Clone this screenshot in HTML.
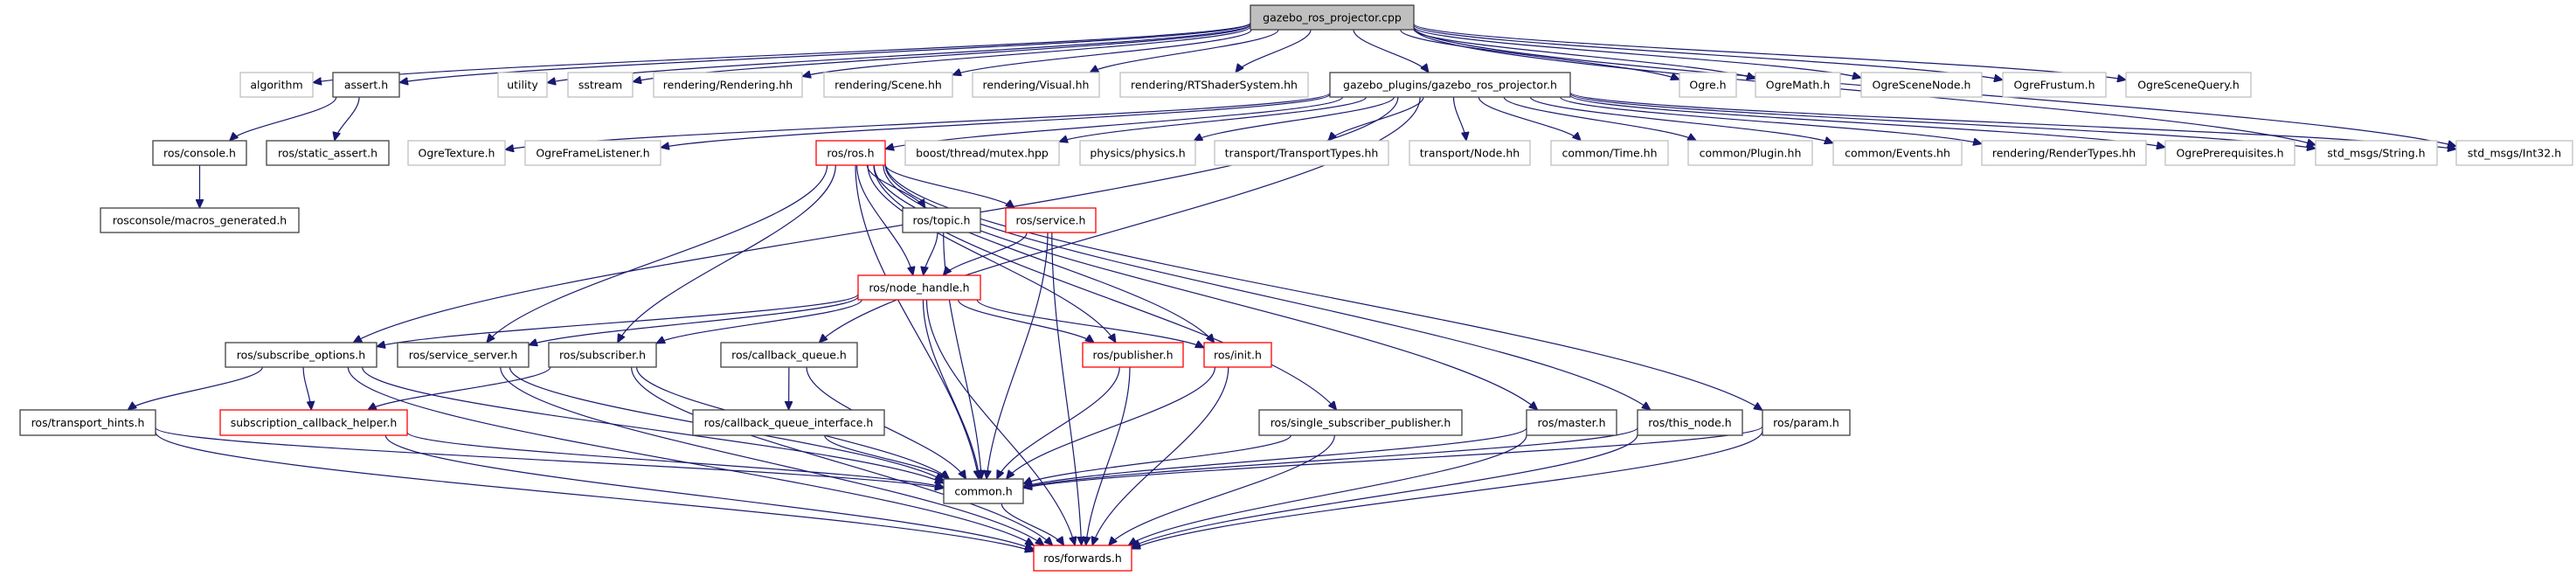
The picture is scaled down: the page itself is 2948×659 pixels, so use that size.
<!DOCTYPE html>
<html><head><meta charset="utf-8"><style>
html,body{margin:0;padding:0;background:#fff;}
svg{display:block;}
text{font-family:"DejaVu Sans","Liberation Sans",sans-serif;font-size:12.5px;fill:#000;text-anchor:middle;dominant-baseline:central;}
.g{fill:#fff;stroke:#bfbfbf;stroke-width:1.3}
.b{fill:#fff;stroke:#404040;stroke-width:1.3}
.r{fill:#fff;stroke:#ff0000;stroke-width:1.3}
.c{fill:#bfbfbf;stroke:#404040;stroke-width:1.3}
.e{fill:none;stroke:#191970;stroke-width:1.2}
</style></head><body>
<svg id="s" width="2948" height="659" viewBox="0 0 2948 659" xmlns="http://www.w3.org/2000/svg">
<defs><marker id="a" markerUnits="userSpaceOnUse" markerWidth="11" markerHeight="9" refX="10" refY="4.5" orient="auto"><path d="M0,0 L10,4.5 L0,9 z" fill="#191970" stroke="#191970"/></marker></defs>
<g id="edges"></g>
<g id="nodes">
<rect class="c" x="1431" y="6" width="187" height="28"/><text x="1524.5" y="20">gazebo_ros_projector.cpp</text>

<rect class="g" x="275" y="83" width="83" height="28"/><text x="316.5" y="97">algorithm</text>
<rect class="b" x="381" y="83" width="76" height="28"/><text x="419" y="97">assert.h</text>
<rect class="g" x="570" y="83" width="56" height="28"/><text x="598" y="97">utility</text>
<rect class="g" x="650" y="83" width="74" height="28"/><text x="687" y="97">sstream</text>
<rect class="g" x="748" y="83" width="170" height="28"/><text x="833" y="97">rendering/Rendering.hh</text>
<rect class="g" x="943" y="83" width="147" height="28"/><text x="1016.5" y="97">rendering/Scene.hh</text>
<rect class="g" x="1113" y="83" width="145" height="28"/><text x="1185.5" y="97">rendering/Visual.hh</text>
<rect class="g" x="1282" y="83" width="215" height="28"/><text x="1389.5" y="97">rendering/RTShaderSystem.hh</text>
<rect class="b" x="1522" y="83" width="275" height="28"/><text x="1659.5" y="97">gazebo_plugins/gazebo_ros_projector.h</text>
<rect class="g" x="1922" y="83" width="65" height="28"/><text x="1954.5" y="97">Ogre.h</text>
<rect class="g" x="2009" y="83" width="97" height="28"/><text x="2057.5" y="97">OgreMath.h</text>
<rect class="g" x="2130" y="83" width="138" height="28"/><text x="2199" y="97">OgreSceneNode.h</text>
<rect class="g" x="2292" y="83" width="118" height="28"/><text x="2351" y="97">OgreFrustum.h</text>
<rect class="g" x="2433" y="83" width="143" height="28"/><text x="2504.5" y="97">OgreSceneQuery.h</text>

<rect class="b" x="175" y="161" width="107" height="28"/><text x="228.5" y="175">ros/console.h</text>
<rect class="b" x="305" y="161" width="140" height="28"/><text x="375" y="175">ros/static_assert.h</text>
<rect class="g" x="467" y="161" width="111" height="28"/><text x="522.5" y="175">OgreTexture.h</text>
<rect class="g" x="601" y="161" width="155" height="28"/><text x="678.5" y="175">OgreFrameListener.h</text>
<rect class="r" x="934" y="161" width="79" height="28"/><text x="973.5" y="175">ros/ros.h</text>
<rect class="g" x="1036" y="161" width="176" height="28"/><text x="1124" y="175">boost/thread/mutex.hpp</text>
<rect class="g" x="1236" y="161" width="132" height="28"/><text x="1302" y="175">physics/physics.h</text>
<rect class="g" x="1390" y="161" width="199" height="28"/><text x="1489.5" y="175">transport/TransportTypes.hh</text>
<rect class="g" x="1613" y="161" width="138" height="28"/><text x="1682" y="175">transport/Node.hh</text>
<rect class="g" x="1775" y="161" width="134" height="28"/><text x="1842" y="175">common/Time.hh</text>
<rect class="g" x="1932" y="161" width="142" height="28"/><text x="2003" y="175">common/Plugin.hh</text>
<rect class="g" x="2098" y="161" width="147" height="28"/><text x="2171.5" y="175">common/Events.hh</text>
<rect class="g" x="2268" y="161" width="188" height="28"/><text x="2362" y="175">rendering/RenderTypes.hh</text>
<rect class="g" x="2478" y="161" width="148" height="28"/><text x="2552" y="175">OgrePrerequisites.h</text>
<rect class="g" x="2650" y="161" width="139" height="28"/><text x="2719.5" y="175">std_msgs/String.h</text>
<rect class="g" x="2811" y="161" width="133" height="28"/><text x="2877.5" y="175">std_msgs/Int32.h</text>

<rect class="b" x="115" y="238" width="227" height="28"/><text x="228.5" y="252">rosconsole/macros_generated.h</text>
<rect class="b" x="1033" y="238" width="89" height="28"/><text x="1077.5" y="252">ros/topic.h</text>
<rect class="r" x="1151" y="238" width="103" height="28"/><text x="1202.5" y="252">ros/service.h</text>

<rect class="r" x="982" y="315" width="140" height="28"/><text x="1052" y="329">ros/node_handle.h</text>

<rect class="b" x="258" y="392" width="173" height="28"/><text x="344.5" y="406">ros/subscribe_options.h</text>
<rect class="b" x="455" y="392" width="150" height="28"/><text x="530" y="406">ros/service_server.h</text>
<rect class="b" x="628" y="392" width="123" height="28"/><text x="689.5" y="406">ros/subscriber.h</text>
<rect class="b" x="825" y="392" width="156" height="28"/><text x="903" y="406">ros/callback_queue.h</text>
<rect class="r" x="1239" y="392" width="115" height="28"/><text x="1296.5" y="406">ros/publisher.h</text>
<rect class="r" x="1378" y="392" width="77" height="28"/><text x="1416.5" y="406">ros/init.h</text>

<rect class="b" x="23" y="469" width="155" height="29"/><text x="100.5" y="483.5">ros/transport_hints.h</text>
<rect class="r" x="252" y="469" width="214" height="29"/><text x="359" y="483.5">subscription_callback_helper.h</text>
<rect class="b" x="793" y="469" width="219" height="29"/><text x="902.5" y="483.5">ros/callback_queue_interface.h</text>
<rect class="b" x="1441" y="469" width="232" height="29"/><text x="1557" y="483.5">ros/single_subscriber_publisher.h</text>
<rect class="b" x="1747" y="469" width="103" height="29"/><text x="1798.5" y="483.5">ros/master.h</text>
<rect class="b" x="1874" y="469" width="120" height="29"/><text x="1934" y="483.5">ros/this_node.h</text>
<rect class="b" x="2017" y="469" width="100" height="29"/><text x="2067" y="483.5">ros/param.h</text>

<rect class="b" x="1080" y="548" width="91" height="28"/><text x="1125.5" y="562">common.h</text>
<rect class="r" x="1183" y="624" width="112" height="29"/><text x="1239" y="638.5">ros/forwards.h</text>
</g>
</svg>
<script>
var N={cpp:[1431,1618,6,34],algorithm:[275,358,83,111],assert:[381,457,83,111],utility:[570,626,83,111],sstream:[650,724,83,111],rend:[748,918,83,111],scene:[943,1090,83,111],visual:[1113,1258,83,111],rts:[1282,1497,83,111],projh:[1522,1797,83,111],ogre:[1922,1987,83,111],ogremath:[2009,2106,83,111],scenenode:[2130,2268,83,111],frustum:[2292,2410,83,111],scenequery:[2433,2576,83,111],
console:[175,282,161,189],sassert:[305,445,161,189],texture:[467,578,161,189],framel:[601,756,161,189],ros:[934,1013,161,189],mutex:[1036,1212,161,189],physics:[1236,1368,161,189],ttypes:[1390,1589,161,189],tnode:[1613,1751,161,189],time:[1775,1909,161,189],plugin:[1932,2074,161,189],events:[2098,2245,161,189],rtypes:[2268,2456,161,189],prereq:[2478,2626,161,189],string:[2650,2789,161,189],int32:[2811,2944,161,189],
macros:[115,342,238,266],topic:[1033,1122,238,266],service:[1151,1254,238,266],nh:[982,1122,315,343],
subopt:[258,431,392,420],ssrv:[455,605,392,420],subscr:[628,751,392,420],cbq:[825,981,392,420],pub:[1239,1354,392,420],init:[1378,1455,392,420],
thints:[23,178,469,498],scbh:[252,466,469,498],cbqi:[793,1012,469,498],ssp:[1441,1673,469,498],master:[1747,1850,469,498],thisnode:[1874,1994,469,498],param:[2017,2117,469,498],
common:[1080,1171,548,576],fwd:[1183,1295,624,653]};
var E=[["cpp","algorithm"],["cpp","assert"],["cpp","utility"],["cpp","sstream"],["cpp","rend"],["cpp","scene"],["cpp","visual"],["cpp","rts"],["cpp","projh"],["cpp","ogre"],["cpp","ogremath"],["cpp","scenenode"],["cpp","frustum"],["cpp","scenequery"],["cpp","string"],["cpp","int32"],
["assert","console"],["assert","sassert"],["console","macros"],
["projh","texture"],["projh","framel"],["projh","ros"],["projh","mutex"],["projh","physics"],["projh","ttypes"],["projh","tnode"],["projh","time"],["projh","plugin"],["projh","events"],["projh","rtypes"],["projh","prereq"],["projh","string"],["projh","int32"],["projh","subopt"],["projh","cbq"],
["ros","topic"],["ros","service"],["ros","nh"],["ros","common"],["ros","pub"],["ros","init"],["ros","ssp"],["ros","master"],["ros","thisnode"],["ros","param"],["ros","ssrv"],["ros","subscr"],
["topic","nh"],["topic","common"],["service","nh"],["service","common"],["service","fwd"],
["nh","subopt"],["nh","ssrv"],["nh","subscr"],["nh","pub"],["nh","init"],["nh","common"],["nh","fwd"],
["subopt","thints"],["subopt","scbh"],["subopt","common"],["subopt","fwd"],["ssrv","common"],["ssrv","fwd"],["subscr","scbh"],["subscr","common"],["subscr","fwd"],
["cbq","cbqi"],["cbq","common"],["cbqi","common"],["thints","common"],["thints","fwd"],["scbh","common"],["scbh","fwd"],["pub","common"],["pub","fwd"],["init","common"],["init","fwd"],
["ssp","common"],["ssp","fwd"],["master","common"],["master","fwd"],["thisnode","common"],["thisnode","fwd"],["param","common"],["param","fwd"],["common","fwd"]];
function clip(b,px,py){var cx=(b[0]+b[1])/2,cy=(b[2]+b[3])/2,dx=px-cx,dy=py-cy,hw=(b[1]-b[0])/2,hh=(b[3]-b[2])/2;var t=Math.min(dx?hw/Math.abs(dx):1e9,dy?hh/Math.abs(dy):1e9);return [cx+dx*t,cy+dy*t];}
var g=document.getElementById("edges"),h="";
E.forEach(function(e){var a=N[e[0]],b=N[e[1]];var ac=[(a[0]+a[1])/2,(a[2]+a[3])/2],bc=[(b[0]+b[1])/2,(b[2]+b[3])/2];
var p=clip(a,bc[0],bc[1]),q=clip(b,ac[0],ac[1]);
var dy=q[1]-p[1];var k=dy*0.35;
h+='<path class="e" marker-end="url(#a)" d="M'+p[0].toFixed(1)+','+p[1].toFixed(1)+' C'+p[0].toFixed(1)+','+(p[1]+k).toFixed(1)+' '+(q[0]+(p[0]-q[0])*0.15).toFixed(1)+','+(q[1]-k).toFixed(1)+' '+q[0].toFixed(1)+','+q[1].toFixed(1)+'"/>';});
g.innerHTML=h;
</script>
</body></html>
